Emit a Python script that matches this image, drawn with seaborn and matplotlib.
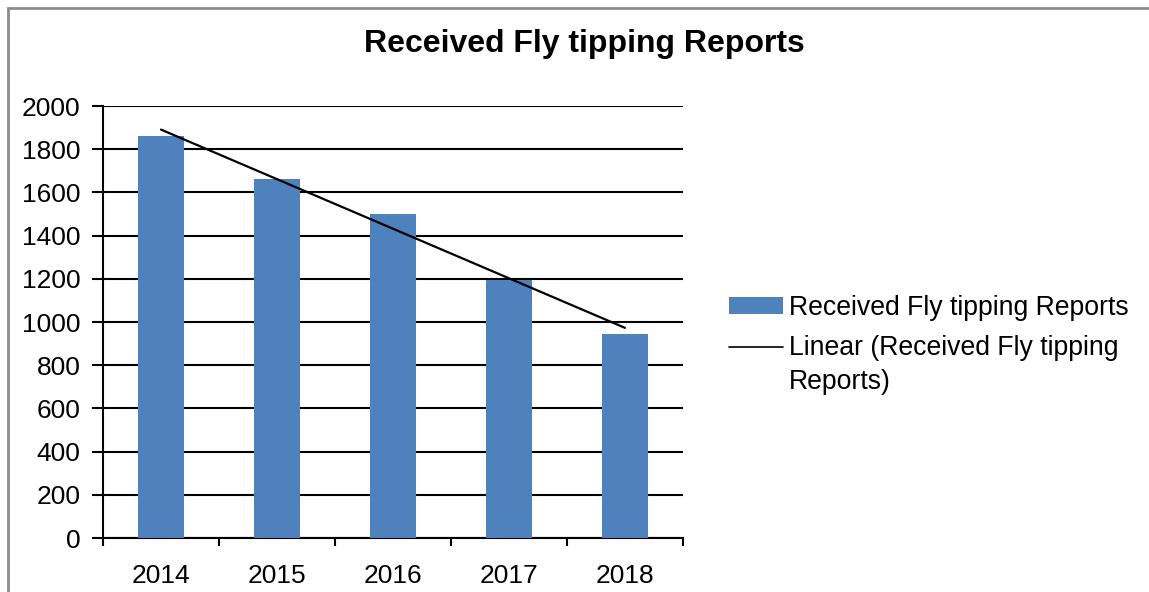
import numpy as np
import pandas as pd
import matplotlib
matplotlib.use('Agg')
import matplotlib.pyplot as plt
from matplotlib.patches import Rectangle, Patch
from matplotlib.lines import Line2D
from matplotlib.legend_handler import HandlerLine2D
from matplotlib.ticker import FixedLocator
import seaborn as sns

# dados
anos = ['2014', '2015', '2016', '2017', '2018']
relatorios = [1860, 1660, 1500, 1195, 945]
titulo = 'Received Fly tipping Reports'
y_ticks = [0, 200, 400, 600, 800, 1000, 1200, 1400, 1600, 1800, 2000]

df = pd.DataFrame({'ano': anos, 'valor': relatorios})
df['pos'] = np.arange(len(anos))

sns.set_theme(style='white')
plt.rcParams['font.family'] = ['Liberation Sans', 'DejaVu Sans']
plt.rcParams['text.color'] = 'black'
plt.rcParams['xtick.color'] = 'black'
plt.rcParams['ytick.color'] = 'black'


# desloca a linha da legenda para a primeira linha do texto
class LinhaTopo(HandlerLine2D):
    def create_artists(self, legend, orig_handle, xdescent, ydescent,
                       width, height, fontsize, trans):
        arts = super().create_artists(legend, orig_handle, xdescent, ydescent,
                                      width, height, fontsize, trans)
        for a in arts:
            a.set_ydata(np.asarray(a.get_ydata()) + 0.7 * fontsize)
        return arts


fig = plt.figure(figsize=(11.49, 5.92), dpi=100)
ax = fig.add_axes([0.0896, 0.0912, 0.5048, 0.7297])

azul = '#4F81BD'
sns.barplot(data=df, x='ano', y='valor', color=azul, width=0.4,
            saturation=1, linewidth=0, ax=ax, zorder=3)
# linha de tendencia linear
sns.regplot(data=df, x='pos', y='valor', scatter=False, ci=None,
            color='black', line_kws={'linewidth': 1.6, 'zorder': 4}, ax=ax)

ax.set_xlim(-0.5, len(anos) - 0.5)
ax.set_ylim(0, 2000)
ax.set_yticks(y_ticks)
ax.set_yticklabels([str(v) for v in y_ticks], fontsize=19)
ax.yaxis.grid(True, color='black', linewidth=1.5, zorder=0)
ax.set_axisbelow(True)

# ticks nas fronteiras das categorias, rotulos no centro
ax.xaxis.set_major_locator(FixedLocator(np.arange(-0.5, len(anos), 1.0)))
ax.set_xticklabels([])
ax.xaxis.set_minor_locator(FixedLocator(np.arange(len(anos))))
ax.set_xticklabels(anos, minor=True, fontsize=19)
ax.tick_params(axis='x', which='major', direction='out', length=6, width=1.5,
               bottom=True)
ax.tick_params(axis='x', which='minor', length=0, pad=19)
ax.tick_params(axis='y', direction='out', length=8, width=1.5,
               left=True, pad=8)

ax.set_xlabel('')
ax.set_ylabel('')
for s in ['top', 'right']:
    ax.spines[s].set_visible(False)
for s in ['left', 'bottom']:
    ax.spines[s].set_color('black')
    ax.spines[s].set_linewidth(1.5)

fig.text(0.509, 0.925, titulo, ha='center', va='center', fontsize=23,
         fontweight='bold')

handles = [Patch(facecolor=azul, edgecolor='none'),
           Line2D([0], [0], color='black', linewidth=1.2)]
labels = [titulo, 'Linear (Received Fly tipping\nReports)']
leg = fig.legend(handles, labels, loc='upper left', bbox_to_anchor=(0.6255, 0.52),
                 frameon=False, fontsize=19.2, handlelength=2.0, handleheight=0.6,
                 handletextpad=0.25, labelspacing=0.55, borderaxespad=0,
                 handler_map={Line2D: LinhaTopo()})
for t in leg.get_texts():
    t.set_linespacing(1.36)

# moldura cinza da area do grafico
fig.patches.append(Rectangle((8 / 1149, -0.1), 1.2, 1.1 - 8 / 592,
                             transform=fig.transFigure, fill=False,
                             edgecolor='#8c8c8c', linewidth=2))

fig.savefig('out.png', dpi=100)
